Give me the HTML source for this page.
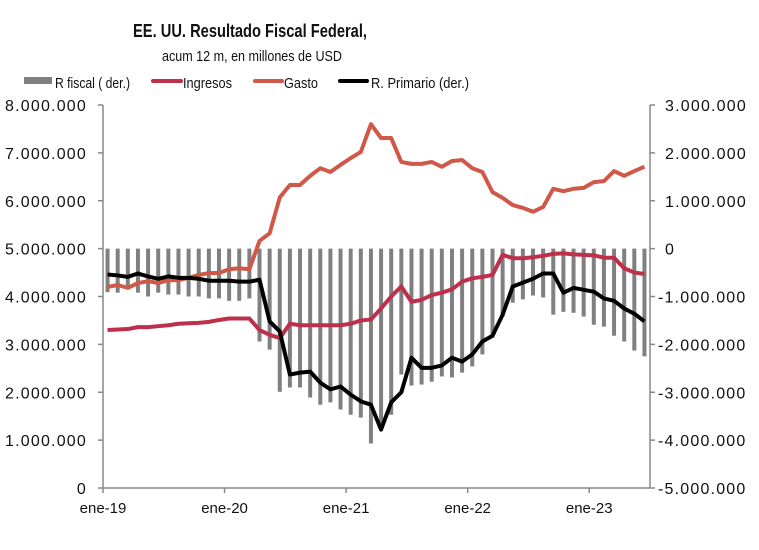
<!DOCTYPE html>
<html><head><meta charset="utf-8"><style>
html,body{margin:0;padding:0;background:#fff;}
svg{display:block;font-family:"Liberation Sans",sans-serif;}
</style></head><body>
<svg id="chart" width="759" height="550">
<text x="250" y="37" text-anchor="middle" font-size="18" font-weight="bold" fill="#111" textLength="234" lengthAdjust="spacingAndGlyphs">EE. UU. Resultado Fiscal Federal,</text>
<text x="252" y="61" text-anchor="middle" font-size="15" fill="#111" textLength="180" lengthAdjust="spacingAndGlyphs">acum 12 m, en millones de USD</text>
<g>
<g><rect x="24" y="77" width="28" height="7" fill="#808080"/><text x="55" y="88" font-size="15" fill="#111" textLength="75" lengthAdjust="spacingAndGlyphs">R fiscal ( der.)</text></g>
<g><line x1="153" y1="81" x2="181" y2="81" stroke="#BE2F4B" stroke-width="4" stroke-linecap="round"/><text x="183" y="88" font-size="15" fill="#111" textLength="49" lengthAdjust="spacingAndGlyphs">Ingresos</text></g>
<g><line x1="255" y1="81" x2="282" y2="81" stroke="#D05848" stroke-width="4" stroke-linecap="round"/><text x="284" y="88" font-size="15" fill="#111" textLength="34" lengthAdjust="spacingAndGlyphs">Gasto</text></g>
<g><line x1="340" y1="81" x2="367" y2="81" stroke="#000" stroke-width="4" stroke-linecap="round"/><text x="371" y="88" font-size="15" fill="#111" textLength="98" lengthAdjust="spacingAndGlyphs">R.  Primario (der.)</text></g>
</g>
<g id="plot"></g>
</svg>
<script>
const xLabels = ["ene-19","ene-20","ene-21","ene-22","ene-23"];
const leftTicks = [0,1,2,3,4,5,6,7,8];
const rightTicks = [3,2,1,0,-1,-2,-3,-4,-5];
const rFiscal = [-0.91,-0.92,-0.82,-0.92,-1.0,-0.92,-0.96,-0.96,-1.0,-1.0,-1.04,-1.04,-1.09,-1.09,-1.04,-1.94,-2.11,-2.99,-2.9,-2.9,-3.11,-3.26,-3.21,-3.36,-3.47,-3.53,-4.07,-3.78,-3.47,-2.63,-2.86,-2.84,-2.78,-2.67,-2.69,-2.59,-2.46,-2.21,-1.86,-1.42,-1.13,-1.06,-0.98,-1.02,-1.38,-1.32,-1.34,-1.42,-1.59,-1.63,-1.82,-1.94,-2.13,-2.25];
const ingresos = [3.30,3.31,3.32,3.36,3.36,3.38,3.40,3.43,3.44,3.45,3.47,3.51,3.54,3.54,3.54,3.30,3.20,3.13,3.43,3.40,3.40,3.40,3.40,3.40,3.43,3.50,3.52,3.75,4.0,4.21,3.89,3.93,4.03,4.08,4.15,4.31,4.38,4.41,4.45,4.87,4.80,4.80,4.82,4.85,4.89,4.90,4.88,4.87,4.86,4.81,4.81,4.59,4.50,4.47];
const gasto = [4.20,4.24,4.18,4.28,4.32,4.28,4.34,4.34,4.39,4.45,4.49,4.49,4.57,4.59,4.57,5.16,5.32,6.07,6.33,6.33,6.52,6.68,6.60,6.75,6.89,7.02,7.60,7.31,7.31,6.81,6.77,6.77,6.81,6.71,6.83,6.85,6.68,6.60,6.18,6.06,5.91,5.85,5.77,5.87,6.25,6.20,6.25,6.27,6.39,6.41,6.62,6.52,6.62,6.71];
const rPrimario = [-0.54,-0.56,-0.59,-0.52,-0.58,-0.63,-0.58,-0.61,-0.61,-0.63,-0.67,-0.67,-0.67,-0.69,-0.69,-0.65,-1.52,-1.73,-2.63,-2.59,-2.57,-2.8,-2.94,-2.88,-3.05,-3.19,-3.26,-3.78,-3.21,-3.0,-2.28,-2.49,-2.49,-2.44,-2.28,-2.36,-2.21,-1.94,-1.82,-1.38,-0.79,-0.71,-0.63,-0.52,-0.52,-0.92,-0.82,-0.86,-0.90,-1.04,-1.09,-1.25,-1.36,-1.52];

const NS="http://www.w3.org/2000/svg";
const plot=document.getElementById('plot');
const X0=103,X1=650,BAND=10.13,YT=105,YB=488;
const x=i=>X0+(i+0.45)*BAND;
const yL=v=>YB-(v/8)*(YB-YT);
const yR=v=>YB-((v+5)/8)*(YB-YT);
function mk(tag,attrs,parent){const e=document.createElementNS(NS,tag);for(const k in attrs)e.setAttribute(k,attrs[k]);(parent||plot).appendChild(e);return e;}
function fmt(v){const n=Math.round(Math.abs(v)*1e6);let s=String(n).replace(/\B(?=(\d{3})+(?!\d))/g,'.');return (v<0?'-':'')+s;}

rFiscal.forEach((v,i)=>{
  const y0=yR(0),y1=yR(v);
  const r=mk('rect',{x:x(i)-2,y:Math.min(y0,y1),width:4,height:Math.abs(y1-y0),fill:'#808080'});
  
  
});
const ax=mk('g',{});


mk('line',{x1:X0,y1:YT,x2:X0,y2:YB,stroke:'#888','stroke-width':1.5},ax);
mk('line',{x1:X1,y1:YT,x2:X1,y2:YB,stroke:'#888','stroke-width':1.5},ax);
mk('line',{x1:X0,y1:YB,x2:X1,y2:YB,stroke:'#888','stroke-width':1.5},ax);
leftTicks.forEach(v=>{
  mk('line',{x1:X0-5,y1:yL(v),x2:X0,y2:yL(v),stroke:'#888','stroke-width':1.5},ax);
  const t=mk('text',{x:87,y:yL(v)+6,'text-anchor':'end','font-size':16,'letter-spacing':1.2,fill:'#111'},ax);
  t.textContent=fmt(v);
  
  
});
rightTicks.forEach(v=>{
  mk('line',{x1:X1,y1:yR(v),x2:X1+5,y2:yR(v),stroke:'#888','stroke-width':1.5},ax);
  const t=mk('text',{x:v===0?665:(v<0?658:665),y:yR(v)+6,'text-anchor':'start','font-size':16,'letter-spacing':1.2,fill:'#111'},ax);
  t.textContent=fmt(v);
  
  
});
xLabels.forEach((l,k)=>{
  const xx=X0+k*12*BAND;
  mk('line',{x1:xx,y1:YB,x2:xx,y2:YB+5,stroke:'#888','stroke-width':1.5},ax);
  const t=mk('text',{x:xx,y:YB+25,'text-anchor':'middle','font-size':15,fill:'#111'},ax);
  t.textContent=l;
  
  
});
function line(arr,fy,color,name){
  const p=mk('polyline',{points:arr.map((v,i)=>x(i)+','+fy(v)).join(' '),fill:'none',stroke:color,'stroke-width':4,'stroke-linejoin':'round'});
  
  
}
line(ingresos,yL,'#BE2F4B','line-ingresos');
line(gasto,yL,'#D05848','line-gasto');
line(rPrimario,yR,'#000','line-r-primario');
</script>
</body></html>
